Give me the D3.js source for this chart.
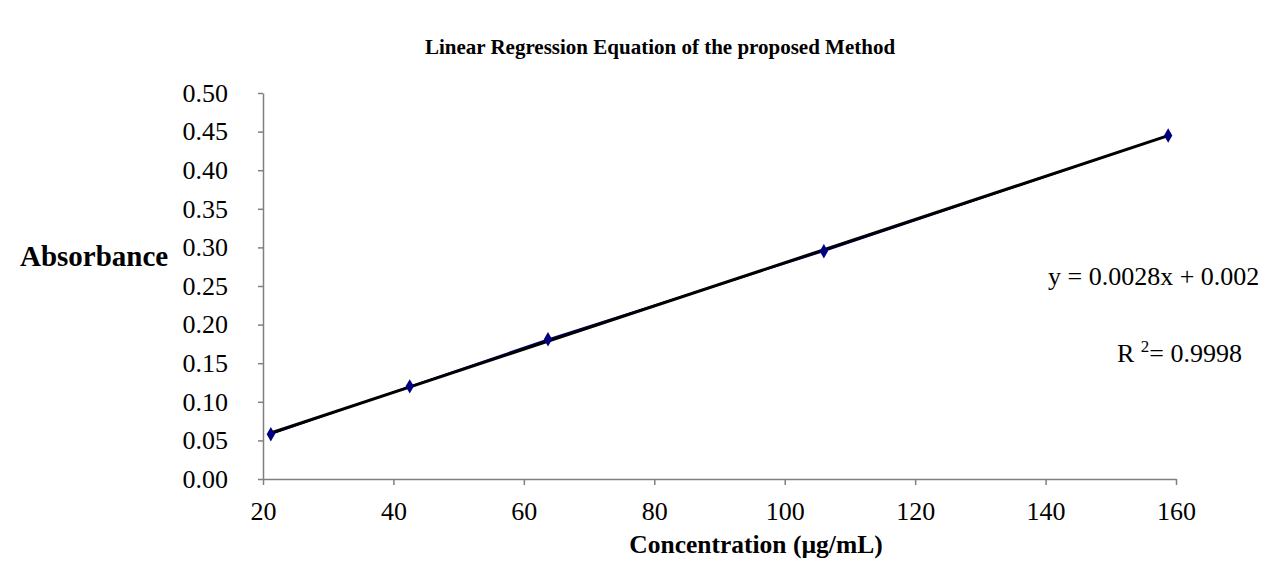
<!DOCTYPE html>
<html lang="en">
<head>
<meta charset="utf-8">
<title>Linear Regression Equation of the proposed Method</title>
<script src="https://d3js.org/d3.v7.min.js"></script>
<style>
  body { margin: 0; background: #fff; }
  svg text { font-family: "Liberation Serif", "Times New Roman", serif; fill: #000; }
</style>
</head>
<body>
<div id="chart"></div>
<script>
// data
var concentration = [21.2, 42.5, 63.7, 106, 158.8];
var absorbance = [0.058, 0.120, 0.181, 0.295, 0.445];
var xTicks = [20, 40, 60, 80, 100, 120, 140, 160];
var yTicks = [0, 0.05, 0.10, 0.15, 0.20, 0.25, 0.30, 0.35, 0.40, 0.45, 0.50];
var equationText = "y = 0.0028x + 0.002";

var w = 1274, h = 567;
var svg = d3.select("#chart").append("svg")
    .attr("width", w).attr("height", h);

var x = d3.scaleLinear().domain([20, 160]).range([263, 1176]);
var y = d3.scaleLinear().domain([0, 0.5]).range([479, 93]);

// title
svg.append("text")
    .attr("x", 660).attr("y", 54)
    .attr("text-anchor", "middle")
    .attr("font-size", 21).attr("font-weight", "bold")
    .text("Linear Regression Equation of the proposed Method");

// axes
var xAxis = svg.append("g")
    .attr("transform", "translate(0," + y(0) + ")")
    .call(d3.axisBottom(x).tickValues(xTicks).tickSize(6).tickPadding(17).tickSizeOuter(0));
var yAxis = svg.append("g")
    .attr("transform", "translate(" + x(20) + ",0)")
    .call(d3.axisLeft(y).tickValues(yTicks).tickFormat(d3.format(".2f")).tickSize(5).tickPadding(30).tickSizeOuter(0));
[xAxis, yAxis].forEach(function(g) {
    g.select(".domain").attr("stroke", "#808080").attr("stroke-width", 1.5);
    g.selectAll(".tick line").attr("stroke", "#808080").attr("stroke-width", 1.5);
    g.selectAll(".tick text").attr("font-size", 26)
        .style("font-family", "'Liberation Serif', 'Times New Roman', serif").attr("fill", "#000");
});

// axis titles
svg.append("text")
    .attr("x", 20).attr("y", 266)
    .attr("font-size", 29).attr("font-weight", "bold")
    .text("Absorbance");
svg.append("text")
    .attr("x", 756).attr("y", 553)
    .attr("text-anchor", "middle")
    .attr("font-size", 25.5).attr("font-weight", "bold")
    .text("Concentration (\u00b5g/mL)");

// data series line
var pts = concentration.map(function(c, i) { return [c, absorbance[i]]; });
svg.append("path")
    .datum(pts)
    .attr("fill", "none")
    .attr("stroke", "#000080")
    .attr("stroke-width", 1.5)
    .attr("d", d3.line().x(function(d) { return x(d[0]); }).y(function(d) { return y(d[1]); }));

// least squares trend line
var mx = d3.mean(concentration), my = d3.mean(absorbance);
var sxy = d3.sum(pts, function(d) { return (d[0] - mx) * (d[1] - my); });
var sxx = d3.sum(concentration, function(c) { return (c - mx) * (c - mx); });
var slope = sxy / sxx, icpt = my - slope * mx;
var x0 = d3.min(concentration), x1 = d3.max(concentration);
svg.append("line")
    .attr("x1", x(x0)).attr("y1", y(slope * x0 + icpt))
    .attr("x2", x(x1)).attr("y2", y(slope * x1 + icpt))
    .attr("stroke", "#000").attr("stroke-width", 3);

// markers
svg.selectAll("path.marker")
    .data(pts)
    .enter().append("path")
    .attr("class", "marker")
    .attr("transform", function(d) { return "translate(" + x(d[0]) + "," + y(d[1]) + ")"; })
    .attr("d", d3.symbol().type(d3.symbolDiamond).size(60))
    .attr("fill", "#000080");

// equation
svg.append("text")
    .attr("x", 1048).attr("y", 285)
    .attr("font-size", 26)
    .text(equationText);
var r2 = svg.append("text")
    .attr("x", 1117).attr("y", 362)
    .attr("font-size", 26);
r2.append("tspan").text("R ");
r2.append("tspan").attr("font-size", 17).attr("dy", -10).text("2");
r2.append("tspan").attr("dy", 10).text("= 0.9998");
</script>
</body>
</html>
